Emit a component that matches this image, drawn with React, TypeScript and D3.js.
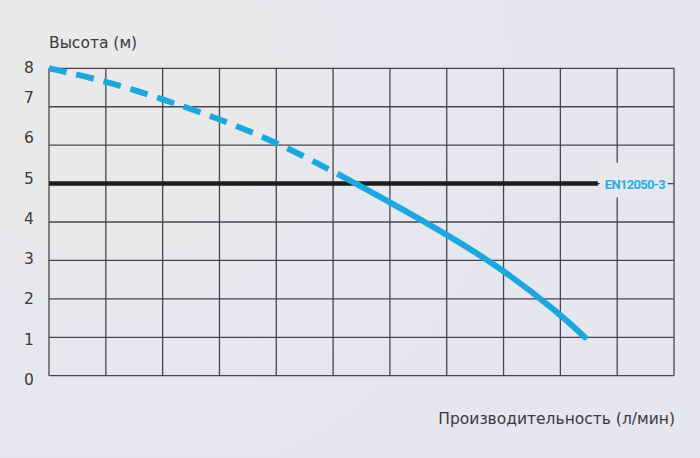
import React from "react";
import * as d3 from "d3";

const W = 700;
const H = 458;

// Data
const xTicks = [0, 1, 2, 3, 4, 5, 6, 7, 8, 9, 10, 11];
const yTicks = [0, 1, 2, 3, 4, 5, 6, 7, 8];
const flow = [0, 1, 2, 3, 4, 5, 6, 7, 8, 9, 9.43];
const head = [8, 7.67, 7.2, 6.68, 6.08, 5.32, 4.52, 3.68, 2.76, 1.6, 1.0];
const normLevel = 5;
const normEnd = 9.66;
const dashedUntil = 5.09;
const normLabel = "EN12050-3";
const yTitle = "Высота (м)";
const xTitle = "Производительность (л/мин)";

const FONT = "'DejaVu Sans', 'Noto Sans', sans-serif";

export default function App() {
  const x = d3.scaleLinear().domain([0, 11]).range([49, 674]);
  const y = d3.scaleLinear().domain([0, 8]).range([375.7, 68.3]);
  const yLabel = d3.scaleLinear().domain([0, 7]).range([380, 98]);

  const pts: [number, number][] = flow.map((f, i) => [f, head[i]]);
  const line = d3
    .line<[number, number]>()
    .x((d) => x(d[0]))
    .y((d) => y(d[1]))
    .curve(d3.curveBasis);
  const pathD = line(pts) || "";
  const split = x(dashedUntil);
  const blue = "#1ba8df";
  const grid = "#45454d";
  const textCol = "#3a3a3c";

  return (
    <svg
      width={W}
      height={H}
      style={{ position: "absolute", left: 0, top: 0, display: "block" }}
    >
      <defs>
        <radialGradient id="bg" cx="110" cy="90" r="420" gradientUnits="userSpaceOnUse">
          <stop offset="0" stopColor="#e9e9e9" />
          <stop offset="0.35" stopColor="#e9e9ea" />
          <stop offset="0.55" stopColor="#e7e7ef" />
          <stop offset="1" stopColor="#e6e6ef" />
        </radialGradient>
        <clipPath id="clipDash">
          <rect x={0} y={0} width={split} height={H} />
        </clipPath>
        <clipPath id="clipSolid">
          <rect x={split} y={0} width={W - split} height={H} />
        </clipPath>
      </defs>
      <rect x={0} y={0} width={W} height={H} fill="url(#bg)" />

      {/* grid */}
      {xTicks.map((t) => (
        <line
          key={"vx" + t}
          x1={x(t)}
          x2={x(t)}
          y1={y(8)}
          y2={y(0)}
          stroke={grid}
          strokeWidth={1.3}
        />
      ))}
      {yTicks.map((t) => (
        <line
          key={"hy" + t}
          x1={x(0)}
          x2={x(11)}
          y1={y(t)}
          y2={y(t)}
          stroke={grid}
          strokeWidth={1.3}
        />
      ))}

      {/* y tick labels */}
      {yTicks.map((t) => (
        <text
          key={"yl" + t}
          x={29}
          y={Math.max(yLabel(t), y(8))}
          textAnchor="middle"
          dominantBaseline="central"
          fontFamily={FONT}
          fontSize={15.5}
          fill={textCol}
        >
          {t}
        </text>
      ))}

      {/* titles */}
      <text x={49} y={48} fontFamily={FONT} fontSize={15.5} fill={textCol}>
        {yTitle}
      </text>
      <text
        x={675}
        y={424}
        textAnchor="end"
        fontFamily={FONT}
        fontSize={15.5}
        fill={textCol}
      >
        {xTitle}
      </text>

      {/* norm line */}
      <line
        x1={x(0)}
        x2={x(normEnd)}
        y1={y(normLevel)}
        y2={y(normLevel)}
        stroke="#1c1c1e"
        strokeWidth={4.5}
      />
      <rect
        x={x(normEnd) + 2}
        y={y(normLevel) - 21}
        width={68}
        height={35}
        fill="#e7e7ee"
      />
      <text
        x={x(normEnd) + 7}
        y={y(normLevel) + 1}
        dominantBaseline="central"
        fontFamily="'Roboto', 'Liberation Sans Narrow', sans-serif"
        fontWeight={700}
        fontSize={13}
        fill="#2aaee0"
        style={{ letterSpacing: "-0.7px" }}
      >
        {normLabel}
      </text>

      {/* pump curve */}
      <path
        d={pathD}
        fill="none"
        stroke={blue}
        strokeWidth={6}
        strokeDasharray="18 10"
        clipPath="url(#clipDash)"
      />
      <path
        d={pathD}
        fill="none"
        stroke={blue}
        strokeWidth={6}
        strokeLinecap="round"
        clipPath="url(#clipSolid)"
      />
    </svg>
  );
}
